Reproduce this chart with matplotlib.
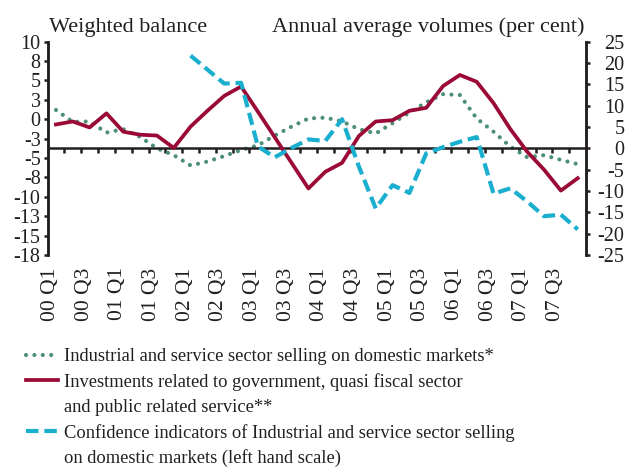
import numpy as np
import matplotlib
matplotlib.use("Agg")
import matplotlib.pyplot as plt
from matplotlib.lines import Line2D
from matplotlib.ticker import FixedLocator, FuncFormatter
from matplotlib.transforms import ScaledTranslation

plt.rcParams['font.family'] = ['Liberation Serif', 'DejaVu Serif']

# Quarters 00 Q1 .. 07 Q4
quarters = [f"{y:02d} Q{q}" for y in range(0, 8) for q in range(1, 5)]

# right hand scale (annual average volumes, per cent)
industrial = [9.0, 6.2, 6.3, 3.7, 4.5, 2.7, 0.0, -1.6, -4.0, -3.1, -1.8, -0.4, 0.7, 3.0, 5.1, 7.0,
              7.2, 6.3, 4.5, 3.5, 5.9, 8.4, 10.8, 12.7, 12.5, 7.0, 3.9, 0.4, -2.1, -1.6, -2.7, -3.7]
investments = [5.6, 6.3, 4.9, 8.2, 3.9, 3.2, 3.0, 0.1, 5.1, 8.8, 12.3, 14.5, 8.6, 2.6, -3.4, -9.4,
               -5.5, -3.4, 2.9, 6.3, 6.6, 8.8, 9.5, 14.6, 17.2, 15.6, 10.6, 4.5, -0.8, -5.0, -9.9, -7.0]
# left hand scale (weighted balance)
confidence = [np.nan] * 8 + [8.2, 6.4, 4.6, 4.7, -3.5, -4.9, -3.7, -2.6,
                             -2.8, 0.0, -6.1, -11.5, -8.5, -9.5, -4.4, -3.6,
                             -2.9, -2.3, -9.6, -8.9, -10.6, -12.5, -12.3, -14.2]

green = '#4c9075'
red = '#9b0a36'
cyan = '#1aafcf'
dark = '#231f20'

x = np.arange(len(quarters))

fig = plt.figure(figsize=(6.27, 4.69), dpi=100)
ax = fig.add_axes([0.0758, 0.4563, 0.859, 0.4548])
ax2 = ax.twinx()

ax.plot(x, confidence, color=cyan, lw=3, dashes=(3.0, 1.4), zorder=3)
ax2.plot(x, industrial, color=green, lw=3, dashes=(0.01, 2.0), dash_capstyle='round', zorder=2)
ax2.plot(x, investments, color=red, lw=2.7, zorder=3)

ax.set_zorder(2)
ax.patch.set_visible(False)

ax.set_xlim(-0.5, len(quarters) - 0.5)
ax.set_ylim(-17.5, 10)
ax2.set_ylim(-25, 25)

# left axis
ax.yaxis.set_major_locator(FixedLocator(np.arange(-17.5, 10.01, 2.5)))
ax.yaxis.set_major_formatter(FuncFormatter(lambda v, p: f"{int(np.sign(v) * np.floor(abs(v) + 0.5))}"))
ax.tick_params(axis='y', length=3, width=1.8, color=dark, pad=2, labelsize=14.5, labelcolor=dark)

# right axis
ax2.yaxis.set_major_locator(FixedLocator(np.arange(-25, 25.1, 5)))
ax2.yaxis.set_major_formatter(FuncFormatter(lambda v, p: f"{int(v)}"))
ax2.tick_params(axis='y', length=3, width=1.8, color=dark, pad=24.5, labelsize=14.5, labelcolor=dark)
for lab in ax2.get_yticklabels():
    lab.set_ha('right')

for a in (ax, ax2):
    a.spines['top'].set_visible(False)
    a.spines['left'].set_linewidth(1.8)
    a.spines['right'].set_linewidth(1.8)
    a.spines['left'].set_color(dark)
    a.spines['right'].set_color(dark)

# category labels at bottom
ax.spines['bottom'].set_visible(False)
ax.xaxis.set_major_locator(FixedLocator(x[::2]))
ax.set_xticklabels(quarters[::2], rotation=90, fontsize=15.5, color=dark)
ax.xaxis.set_minor_locator(FixedLocator(x[:-1] + 0.5))
ax.tick_params(axis='x', which='both', length=0, pad=9)
offset = ScaledTranslation(-0.055, 0, fig.dpi_scale_trans)
for lab in ax.get_xticklabels():
    lab.set_transform(lab.get_transform() + offset)

# zero line with quarter ticks
ax2.xaxis.set_visible(True)
ax2.spines['bottom'].set_position(('data', 0))
ax2.spines['bottom'].set_linewidth(1.8)
ax2.spines['bottom'].set_color(dark)
ax2.tick_params(axis='x', which='major', length=0, labelbottom=False)
ax2.tick_params(axis='x', which='minor', length=3.5, width=1.8, color=dark, direction='out')

fig.text(49 / 627, 1 - 32 / 469, 'Weighted balance', fontsize=16, color=dark, va='baseline')
fig.text(585 / 627, 1 - 32 / 469, 'Annual average volumes (per cent)', fontsize=16, color=dark,
         va='baseline', ha='right')

handles = [
    Line2D([], [], color=green, lw=3, dashes=(0.01, 2.0), dash_capstyle='round'),
    Line2D([], [], color=red, lw=2.7),
    Line2D([], [], color='none'),
    Line2D([], [], color=cyan, lw=3, dashes=(3.0, 1.4)),
    Line2D([], [], color='none'),
]
labels = [
    'Industrial and service sector selling on domestic markets*',
    'Investments related to government, quasi fiscal sector',
    'and public related service**',
    'Confidence indicators of Industrial and service sector selling',
    'on domestic markets (left hand scale)',
]
fig.legend(handles, labels, loc='upper left', bbox_to_anchor=(26 / 627, 1 - 348 / 469),
           frameon=False, fontsize=13.3, handlelength=1.75, handletextpad=0.3,
           labelspacing=0.43, borderpad=0, borderaxespad=0, labelcolor=dark)

fig.savefig('out.png', dpi=100)
